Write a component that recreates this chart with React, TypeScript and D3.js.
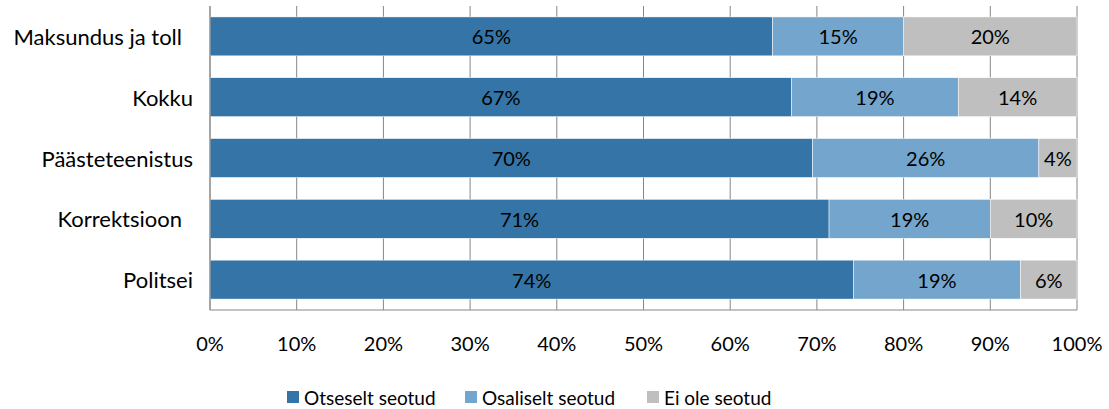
import React from 'react'
import * as d3 from 'd3'

const categories = ['Maksundus ja toll ', 'Kokku', 'Päästeteenistus', 'Korrektsioon ', 'Politsei']
const otseselt = [64.9, 67.1, 69.5, 71.4, 74.2]
const osaliselt = [15.1, 19.2, 26.1, 18.6, 19.3]
const eiOle = [20.0, 13.7, 4.4, 10.0, 6.5]
const valueLabels = [
  ['65%', '15%', '20%'],
  ['67%', '19%', '14%'],
  ['70%', '26%', '4%'],
  ['71%', '19%', '10%'],
  ['74%', '19%', '6%'],
]
const seriesNames = ['Otseselt seotud', 'Osaliselt seotud', 'Ei ole seotud']
const colors = ['#3574a6', '#74a6cd', '#bfbfbf']
const ticks = [0, 10, 20, 30, 40, 50, 60, 70, 80, 90, 100]

const W = 1109
const H = 409
const left = 210
const right = 1077
const top = 6
const bottom = 310
const font = 'Lato, "Open Sans", sans-serif'

function App() {
  const x = d3.scaleLinear().domain([0, 100]).range([left, right])
  const y = d3.scaleBand().domain(categories).range([top, bottom]).paddingInner(0.36).paddingOuter(0.18)

  const rows = categories.map((c, i) => ({c, vals: [otseselt[i], osaliselt[i], eiOle[i]]}))
  const stack = d3.stack<any>().keys(['0', '1', '2']).value((d: any, k) => d.vals[+k])(rows)

  const legendX = [287, 465, 647]

  return (
    <svg width={W} height={H} style={{position: 'absolute', left: 0, top: 0}} fontFamily={font}>
      {ticks.map(t => (
        <line key={t} x1={x(t)} x2={x(t)} y1={top} y2={bottom} stroke="#868686" strokeWidth={1} />
      ))}
      {stack.map((s, si) =>
        s.map((d, i) => (
          <rect
            key={si + '-' + i}
            x={x(d[0])}
            width={x(d[1]) - x(d[0])}
            y={y(categories[i])}
            height={y.bandwidth()}
            fill={colors[si]}
            stroke="#ffffff"
            strokeWidth={0.5}
          />
        )),
      )}
      {stack.map((s, si) =>
        s.map((d, i) => (
          <text
            key={'l' + si + '-' + i}
            x={(x(d[0]) + x(d[1])) / 2}
            y={(y(categories[i]) as number) + y.bandwidth() / 2}
            textAnchor="middle"
            dominantBaseline="central"
            fontSize={20}
            fill="#000">
            {valueLabels[i][si]}
          </text>
        )),
      )}
      <line x1={left} x2={right} y1={bottom} y2={bottom} stroke="#868686" />
      <line x1={left} x2={left} y1={top} y2={bottom} stroke="#868686" />
      {categories.map(c => (
        <text
          key={c}
          x={193}
          y={(y(c) as number) + y.bandwidth() / 2}
          textAnchor="end"
          dominantBaseline="central"
          fontSize={22}>
          {c.replace(/ $/, '\u2002')}
        </text>
      ))}
      {ticks.map(t => (
        <text key={'t' + t} x={x(t)} y={343} textAnchor="middle" dominantBaseline="central" fontSize={20}>
          {t + '%'}
        </text>
      ))}
      {seriesNames.map((n, i) => (
        <g key={n}>
          <rect x={legendX[i]} y={391} width={12} height={12} fill={colors[i]} />
          <text x={legendX[i] + 17} y={397} dominantBaseline="central" fontSize={19}>
            {n}
          </text>
        </g>
      ))}
    </svg>
  )
}

export default App
